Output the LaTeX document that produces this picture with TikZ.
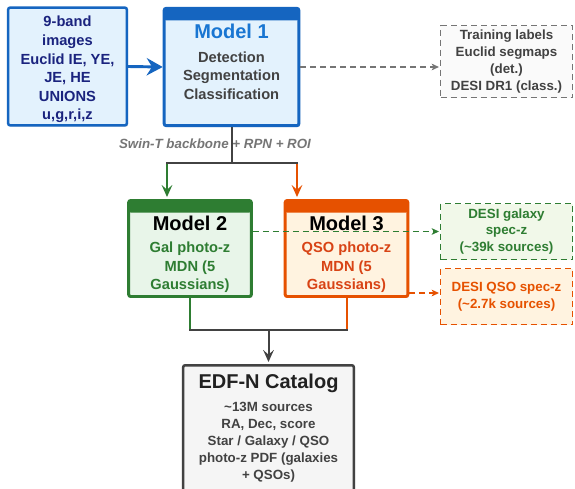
\documentclass[tikz,border=0pt]{standalone}
\usepackage{fontspec}
\setmainfont{Liberation Sans}
\usetikzlibrary{arrows.meta, positioning, shadows, calc}
\definecolor{bandblue}{HTML}{1565C0}
\definecolor{titleblue}{HTML}{1976D2}
\definecolor{navy}{HTML}{1A237E}
\definecolor{lightblue}{HTML}{E3F2FD}
\definecolor{bandgreen}{HTML}{2E7D32}
\definecolor{lightgreen}{HTML}{E8F5E9}
\definecolor{palegreen}{HTML}{F1F8E9}
\definecolor{bandorange}{HTML}{E65100}
\definecolor{textorange}{HTML}{D84315}
\definecolor{lightorange}{HTML}{FFF3E0}
\definecolor{darkgray}{HTML}{424242}
\definecolor{midgray}{HTML}{757575}
\definecolor{lightgray}{HTML}{F5F5F5}
\newcommand{\titlefont}{\fontsize{15}{18}\selectfont}
\tikzset{
    box/.style={rectangle, draw, rounded corners=1.5pt, align=center, inner sep=2pt,
        font=\bfseries\fontsize{11}{13.9}\selectfont,
        drop shadow={shadow xshift=1pt, shadow yshift=-1pt, opacity=0.25}},
    model/.style={box, line width=2.2pt, draw=#1, minimum width=92pt, minimum height=72pt,
        path picture={\fill[#1] (path picture bounding box.north west) rectangle ([yshift=-9pt]path picture bounding box.north east);}},
    dashbox/.style={rectangle, draw, dash pattern=on 4.5pt off 3pt, line width=1.3pt, align=center,
        minimum width=99pt, font=\bfseries\fontsize{10}{12.6}\selectfont},
    link/.style={line width=1.5pt, draw=darkgray},
    arrow/.style={link, shorten >=1.5pt, -{Stealth[length=9pt, width=8pt, inset=3.5pt]}},
    hint/.style={dash pattern=on 4.5pt off 3pt, line width=1.3pt, shorten >=0.5pt,
        -{Stealth[length=5.5pt, width=5pt, inset=1.5pt]}}
}
\begin{document}
\begin{tikzpicture}[x=0.75pt, y=-0.75pt]
\useasboundingbox (0,0) rectangle (575,489);

% inputs, detection model, training labels
\node[box, draw=bandblue, fill=lightblue, text=navy, line width=1.9pt, minimum width=89pt, minimum height=83pt] (bands) at (67.5,66.5)
    {\rule{0pt}{12.5pt}9-band\\images\\Euclid IE, YE,\\JE, HE\\UNIONS\\u,g,r,i,z};
\node[model=bandblue, fill=lightblue, text=darkgray, minimum width=101pt, minimum height=88pt] (model1) at (231.5,67)
    {\textcolor{titleblue}{\titlefont Model 1}\\[3.6pt]Detection\\Segmentation\\Classification\rule[-8pt]{0pt}{8pt}};
\node[dashbox, draw=midgray, fill=black!2, text=darkgray, minimum height=54pt] (labels) at (506.5,61.5)
    {Training labels\\Euclid segmaps\\(det.)\\DESI DR1 (class.)};

% photo-z models
\node[model=bandgreen, fill=lightgreen, text=bandgreen] (model2) at (190,248.5)
    {\rule{0pt}{20pt}\textcolor{black}{\titlefont Model 2}\\[2.6pt]Gal photo-z\\MDN (5\\Gaussians)};
\node[model=bandorange, fill=lightorange, text=textorange] (model3) at (346.5,248.5)
    {\rule{0pt}{20pt}\textcolor{black}{\titlefont Model 3}\\[2.6pt]QSO photo-z\\MDN (5\\Gaussians)};
\node[dashbox, draw=bandgreen, fill=palegreen, text=bandgreen, minimum height=42pt] (galspec) at (506.5,231.5)
    {DESI galaxy\\spec-z\\(\textasciitilde39k sources)};
\node[dashbox, draw=bandorange, fill=lightorange, text=bandorange, minimum height=42pt] (qsospec) at (506.5,296.5)
    {DESI QSO spec-z\\(\textasciitilde2.7k sources)};

% output catalog
\node[box, draw=darkgray, fill=lightgray, text=darkgray, line width=1.9pt, minimum width=128pt, minimum height=95pt,
    font=\bfseries\fontsize{10}{12.75}\selectfont] (catalog) at (268.5,428.6)
    {\textcolor{black!87}{\titlefont EDF-N Catalog}\\[4.5pt]\textasciitilde13M sources\\RA, Dec, score\\Star / Galaxy / QSO\\photo-z PDF (galaxies\\+ QSOs)};

% connectors
\draw[line width=2.2pt, draw=bandblue, -{Stealth[length=12pt, width=13pt, inset=4pt]}] (bands.east) -- (model1.west);
\draw[hint, draw=midgray] (model1.east) -- (model1.east -| labels.west);

\coordinate (fork) at (231.5,163);
\coordinate (galfork) at (167,163);
\coordinate (qsofork) at (297,163);
\draw[link] (model1.south) -- (fork);
\draw[arrow, draw=bandgreen] (galfork) -- (galfork |- model2.north);
\draw[arrow, draw=bandorange] (qsofork) -- (qsofork |- model3.north);
\draw[link, line cap=rect] (galfork) -- (qsofork);
\node[font=\bfseries\itshape\fontsize{10}{12}\selectfont, text=midgray] (backbone) at (215,144) {Swin-T backbone + RPN + ROI};

\draw[hint, draw=bandgreen] (model2.east |- galspec.west) -- (galspec.west);
\coordinate (qsoin) at ($(qsospec.west)+(0,-3.5)$);
\draw[hint, draw=bandorange] (model3.east |- qsoin) -- (qsoin);

\coordinate (merge) at (268.5,330);
\draw[link, draw=bandgreen] (model2.south) -- (model2.south |- merge);
\draw[link, draw=bandorange] (model3.south) -- (model3.south |- merge);
\draw[link, line cap=rect] (model2.south |- merge) -- (model3.south |- merge);
\draw[arrow] (merge) -- (catalog.north);
\end{tikzpicture}
\end{document}
